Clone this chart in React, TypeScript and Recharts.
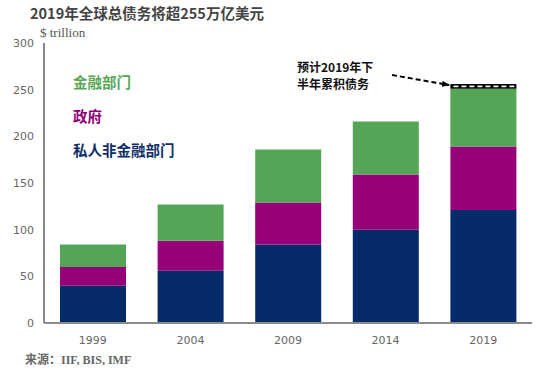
import { Bar, BarChart, XAxis, YAxis } from "recharts";

const years = ["1999", "2004", "2009", "2014", "2019"];
const privateNonFin = [40, 56, 84, 100, 121];
const government = [20, 32, 45, 59, 68];
const financial = [24, 39, 57, 57, 62];
const h2Estimate = [0, 0, 0, 0, 5];
const yTicks = [0, 50, 100, 150, 200, 250, 300];

const data = years.map((year, i) => ({
  year,
  privateNonFin: privateNonFin[i],
  government: government[i],
  financial: financial[i],
  h2Estimate: h2Estimate[i],
}));

const NAVY = "#062b6b";
const MAGENTA = "#960079";
const GREEN = "#54a556";
const FRAME = "#8a8a8a";
const tickStyle = { fontSize: 11, fill: "#666", fontFamily: "DejaVu Sans" };
const cjk = "'Noto Sans CJK SC', sans-serif";

// black band with white dashes on top of the 2019 bar
function HatchShape(props: any) {
  const { x, y, width, height } = props;
  if (!height || height <= 0) return null;
  const dashes = [];
  for (let dx = 3; dx + 5 <= width - 2; dx += 8) {
    dashes.push(
      <rect key={dx} x={x + dx} y={y + height / 2 - 0.8} width={5} height={1.6} fill="#fff" />
    );
  }
  return (
    <g>
      <rect x={x} y={y} width={width} height={height} fill="#000" />
      {dashes}
    </g>
  );
}

export default function App() {
  return (
    <div style={{ position: "absolute", left: 0, top: 0, width: 550, height: 373, background: "#fff" }}>
      <BarChart
        width={550}
        height={373}
        data={data}
        margin={{ top: 43, right: 18, bottom: 20, left: 0 }}
      >
        <XAxis
          dataKey="year"
          height={30}
          tickLine={false}
          tickSize={0}
          tickMargin={13}
          tick={tickStyle}
          axisLine={{ stroke: FRAME, strokeWidth: 2 }}
        />
        <XAxis
          xAxisId="top"
          dataKey="year"
          orientation="top"
          height={0}
          tick={false}
          tickLine={false}
          axisLine={{ stroke: FRAME, strokeWidth: 2 }}
        />
        <YAxis
          width={44}
          domain={[0, 300]}
          ticks={yTicks}
          tickLine={false}
          tickSize={0}
          tickMargin={10}
          tick={tickStyle}
          axisLine={{ stroke: FRAME, strokeWidth: 2 }}
        />
        <YAxis
          yAxisId="right"
          orientation="right"
          width={0}
          domain={[0, 300]}
          tick={false}
          tickLine={false}
          axisLine={{ stroke: FRAME, strokeWidth: 2 }}
        />
        <Bar dataKey="privateNonFin" stackId="a" fill={NAVY} barSize={66} isAnimationActive={false} />
        <Bar dataKey="government" stackId="a" fill={MAGENTA} barSize={66} isAnimationActive={false} />
        <Bar dataKey="financial" stackId="a" fill={GREEN} barSize={66} isAnimationActive={false} />
        <Bar dataKey="h2Estimate" stackId="a" fill="#000" barSize={66} shape={HatchShape} isAnimationActive={false} />
      </BarChart>
      <svg
        width={550}
        height={373}
        style={{ position: "absolute", left: 0, top: 0, pointerEvents: "none" }}
      >
        <defs>
          <marker id="arrow" markerWidth="8" markerHeight="6" refX="7" refY="3" orient="auto" markerUnits="userSpaceOnUse">
            <path d="M0,0 L8,3 L0,6 Z" fill="#000" />
          </marker>
        </defs>
        <text x={30} y={19} fontFamily={cjk} fontWeight={700} fontSize={14.5} fill="#444">
          2019年全球总债务将超255万亿美元
        </text>
        <text x={40} y={37} fontFamily="Liberation Serif" fontSize={13} fill="#555">
          $ trillion
        </text>
        <g fontFamily={cjk} fontWeight={700} fontSize={14.5}>
          <text x={73} y={88} fill="#58a658">金融部门</text>
          <text x={73} y={122} fill="#8e0077">政府</text>
          <text x={73} y={156} fill="#102e66">私人非金融部门</text>
        </g>
        <g fontFamily={cjk} fontWeight={700} fontSize={12} fill="#111">
          <text x={297} y={72}>预计2019年下</text>
          <text x={297} y={89}>半年累积债务</text>
        </g>
        <line
          x1={392}
          y1={75}
          x2={449}
          y2={85}
          stroke="#000"
          strokeWidth={2}
          strokeDasharray="5 3"
          markerEnd="url(#arrow)"
        />
        <text x={25} y={364} fontSize={12} fill="#666" fontWeight={700}>
          <tspan fontFamily={cjk}>来源：</tspan>
          <tspan fontFamily="Liberation Serif">IIF, BIS, IMF</tspan>
        </text>
      </svg>
    </div>
  );
}
